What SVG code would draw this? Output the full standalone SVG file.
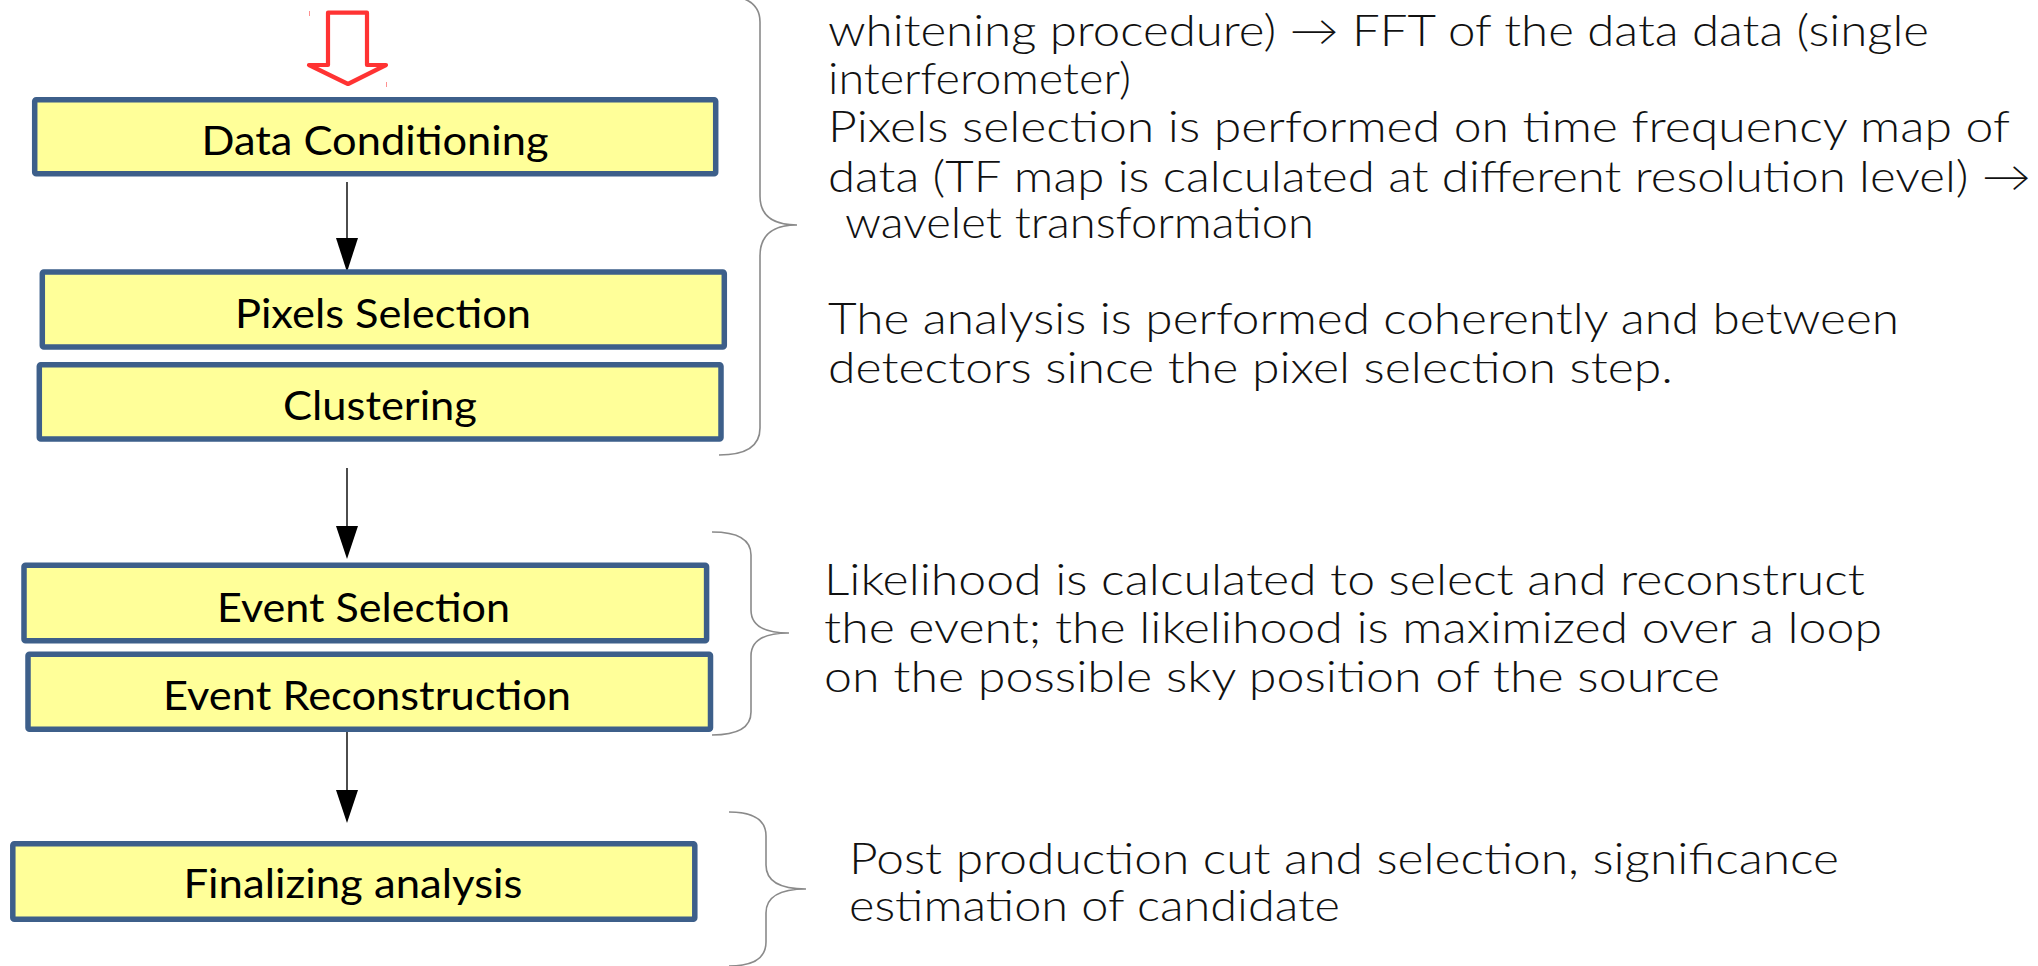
<svg xmlns="http://www.w3.org/2000/svg" width="2038" height="966" viewBox="0 0 2038 966">
<defs>
<style>
.box{fill:#ffff99;stroke:#3d5f8a;stroke-width:5.5;stroke-linejoin:round}
.lbl{font-family:Lato,"Liberation Sans",sans-serif;font-size:41px;fill:#000;text-anchor:middle}
.desc{font-family:Lato,"Liberation Sans",sans-serif;font-weight:300;font-size:43px;fill:#111}
.conn{stroke:#000;stroke-width:1.4;fill:none}
.brace{stroke:#8a8a8a;stroke-width:1.6;fill:none}
</style>
<marker id="ah" markerUnits="userSpaceOnUse" markerWidth="24" markerHeight="36" refX="11" refY="34" orient="auto-start-reverse" viewBox="0 0 22 34">
<path d="M0,0 L22,0 L11,34 Z" fill="#000"/>
</marker>
</defs>
<rect width="2038" height="966" fill="#fff"/>

<g id="input-arrow">
<path d="M328,12.7 L367,12.7 L367,65 L386,65 L348,84 L309,65 L328,65 Z" fill="none" stroke="#ff3333" stroke-width="4.2" stroke-linejoin="round"/>
<line x1="309.5" y1="11" x2="309.5" y2="16" stroke="#ff9090" stroke-width="1"/>
<line x1="386.5" y1="82" x2="386.5" y2="87" stroke="#ff9090" stroke-width="1"/>
</g>

<g id="connectors">
<line class="conn" x1="347" y1="182" x2="347" y2="238"/>
<path d="M336,238 L358,238 L347,272 Z" fill="#000"/>
<line class="conn" x1="347" y1="468" x2="347" y2="526"/>
<path d="M336,526 L358,526 L347,559 Z" fill="#000"/>
<line class="conn" x1="347" y1="732" x2="347" y2="790"/>
<path d="M336,790 L358,790 L347,823 Z" fill="#000"/>
</g>

<g id="node-data-conditioning">
<rect class="box" x="34.7" y="99.7" width="681" height="74" rx="1.5"/>
<text class="lbl" x="375" y="155" textLength="347" lengthAdjust="spacingAndGlyphs">Data Conditioning</text>
</g>
<g id="node-pixels-selection">
<rect class="box" x="42.3" y="272" width="682" height="75" rx="1.5"/>
<text class="lbl" x="383" y="328" textLength="296" lengthAdjust="spacingAndGlyphs">Pixels Selection</text>
</g>
<g id="node-clustering">
<rect class="box" x="39.3" y="364.7" width="681.7" height="74.3" rx="1.5"/>
<text class="lbl" x="380" y="420" textLength="194" lengthAdjust="spacingAndGlyphs">Clustering</text>
</g>
<g id="node-event-selection">
<rect class="box" x="24" y="565.3" width="682.6" height="75.4" rx="1.5"/>
<text class="lbl" x="363.5" y="622" textLength="293" lengthAdjust="spacingAndGlyphs">Event Selection</text>
</g>
<g id="node-event-reconstruction">
<rect class="box" x="28" y="654.3" width="682.5" height="75" rx="1.5"/>
<text class="lbl" x="367" y="710" textLength="408" lengthAdjust="spacingAndGlyphs">Event Reconstruction</text>
</g>
<g id="node-finalizing-analysis">
<rect class="box" x="12.8" y="843.7" width="682" height="75.6" rx="1.5"/>
<text class="lbl" x="353" y="898" textLength="339" lengthAdjust="spacingAndGlyphs">Finalizing analysis</text>
</g>

<g id="braces">
<path class="brace" d="M719,-5 Q760,-5 760,22 L760,196 Q760,225 797,225 Q760,225 760,256 L760,428 Q760,455 719,455"/>
<path class="brace" d="M712,532 Q751,532 751,555 L751,610 Q751,633 789,633 Q751,633 751,656 L751,712 Q751,735 712,735"/>
<path class="brace" d="M729,812 Q766,812 766,836 L766,865 Q766,889 806,889 Q766,889 766,913 L766,942 Q766,966 729,966"/>
</g>

<g id="notes">
<text class="desc" x="828" y="46" textLength="1101" lengthAdjust="spacingAndGlyphs">whitening procedure) → FFT of the data data (single</text>
<text class="desc" x="828" y="93.5" textLength="303" lengthAdjust="spacingAndGlyphs">interferometer)</text>
<text class="desc" x="828" y="141.7" textLength="1182" lengthAdjust="spacingAndGlyphs">Pixels selection is performed on time frequency map of</text>
<text class="desc" x="828" y="191.7" textLength="1203" lengthAdjust="spacingAndGlyphs">data (TF map is calculated at different resolution level) →</text>
<text class="desc" x="845" y="238.3" textLength="469" lengthAdjust="spacingAndGlyphs">wavelet transformation</text>
<text class="desc" x="828" y="334" textLength="1071" lengthAdjust="spacingAndGlyphs">The analysis is performed coherently and between</text>
<text class="desc" x="828" y="383" textLength="845" lengthAdjust="spacingAndGlyphs">detectors since the pixel selection step.</text>
<text class="desc" x="824" y="595" textLength="1041" lengthAdjust="spacingAndGlyphs">Likelihood is calculated to select and reconstruct</text>
<text class="desc" x="824" y="643.3" textLength="1058" lengthAdjust="spacingAndGlyphs">the event; the likelihood is maximized over a loop</text>
<text class="desc" x="824" y="691.7" textLength="896" lengthAdjust="spacingAndGlyphs">on the possible sky position of the source</text>
<text class="desc" x="849" y="874" textLength="990" lengthAdjust="spacingAndGlyphs">Post production cut and selection, significance</text>
<text class="desc" x="849" y="921" textLength="491" lengthAdjust="spacingAndGlyphs">estimation of candidate</text>
</g>
</svg>
